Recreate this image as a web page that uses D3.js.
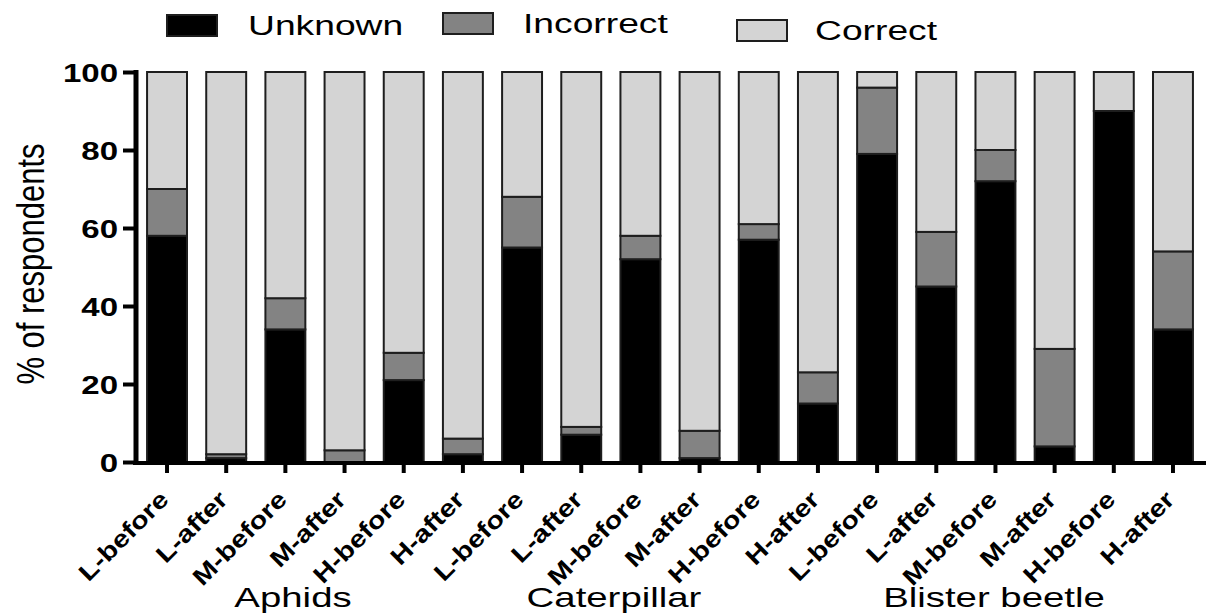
<!DOCTYPE html>
<html><head><meta charset="utf-8">
<script src="https://cdn.jsdelivr.net/npm/d3@7"></script>
<style>
html,body{margin:0;padding:0;background:#fff;}
text{font-family:"Liberation Sans",Arial,sans-serif;fill:#000;}
</style></head>
<body>
<svg id="chart" width="1208" height="614"></svg>
<script>
// ---- data ----
const categories = ["L-before","L-after","M-before","M-after","H-before","H-after",
                    "L-before","L-after","M-before","M-after","H-before","H-after",
                    "L-before","L-after","M-before","M-after","H-before","H-after"];
const groups = ["Aphids","Caterpillar","Blister beetle"];
const unknown   = [58, 1, 34, 0, 21, 2,  55, 7, 52, 1, 57, 15,  79, 45, 72, 4, 90, 34];
const incorrect = [12, 1,  8, 3,  7, 4,  13, 2,  6, 7,  4,  8,  17, 14,  8, 25, 0, 20];
const correct   = [30, 98, 58, 97, 72, 94, 32, 91, 42, 92, 39, 77,  4, 41, 20, 71, 10, 46];
const seriesNames = ["Unknown","Incorrect","Correct"];
const yTicks = [0, 20, 40, 60, 80, 100];

const colors = {Unknown:"#000000", Incorrect:"#838383", Correct:"#d4d4d4"};

const svg = d3.select("#chart");
svg.append("rect").attr("width",1208).attr("height",614).attr("fill","#fff");

const rows = categories.map((c,i)=>({id:i, cat:c, Unknown:unknown[i], Incorrect:incorrect[i], Correct:correct[i]}));
const stack = d3.stack().keys(seriesNames)(rows);

const x = d3.scaleBand().domain(rows.map(r=>r.id)).range([137,1203]).paddingInner(0.325).paddingOuter(0.17);
const y = d3.scaleLinear().domain([0,100]).range([462,72]);

// bars
svg.append("g").selectAll("g").data(stack).join("g")
  .attr("fill", d=>colors[d.key])
  .selectAll("rect").data(d=>d).join("rect")
  .attr("x", d=>x(d.data.id))
  .attr("width", x.bandwidth())
  .attr("y", d=>y(d[1]))
  .attr("height", d=>Math.max(0, y(d[0])-y(d[1])))
  .attr("stroke","#1e1e1e").attr("stroke-width",2);

// y axis
const yAxis = svg.append("g").attr("transform","translate(136,0)")
  .call(d3.axisLeft(y).tickValues(yTicks).tickSize(13).tickSizeOuter(0).tickPadding(0));
yAxis.select(".domain").attr("stroke","#000").attr("stroke-width",5).attr("d","M0,70V465");
yAxis.selectAll(".tick line").attr("stroke","#000").attr("stroke-width",4);
yAxis.selectAll(".tick text").remove();
yAxis.selectAll(".tick").append("text")
  .attr("transform","translate(-18,9) scale(1.27,1)")
  .attr("text-anchor","end")
  .style("font-size","26px").style("font-weight","bold")
  .text(d=>d);

// x axis
const xAxis = svg.append("g").attr("transform","translate(0,463)")
  .call(d3.axisBottom(x).tickSize(10).tickSizeOuter(0).tickFormat(""));
xAxis.select(".domain").attr("stroke","#000").attr("stroke-width",4).attr("d","M133,0H1206");
xAxis.selectAll(".tick line").attr("stroke","#000").attr("stroke-width",4);
xAxis.selectAll(".tick text").remove();
xAxis.selectAll(".tick").append("text")
  .attr("transform","translate(3,38) rotate(-45) scale(1.2,1)")
  .attr("text-anchor","end")
  .style("font-size","24px").style("font-weight","bold")
  .text(d=>categories[d]);

// group labels
const groupCenters = [293, 614, 994];
svg.append("g").selectAll("text").data(groups).join("text")
  .attr("transform",(d,i)=>`translate(${groupCenters[i]},607) scale(1.37,1)`)
  .attr("text-anchor","middle")
  .style("font-size","28px")
  .text(d=>d);

// y title
svg.append("text")
  .attr("transform","translate(44,264) rotate(-90) scale(1,1.25)")
  .attr("text-anchor","middle")
  .style("font-size","31px")
  .text("% of respondents");

// legend
const legendItems = [
  {name:"Unknown", rx:167, ry:15, tx:248, ty:35},
  {name:"Incorrect", rx:443, ry:13, tx:523, ty:33},
  {name:"Correct", rx:737, ry:20, tx:815, ty:40}
];
const lg = svg.append("g");
lg.selectAll("rect").data(legendItems).join("rect")
  .attr("x",d=>d.rx).attr("y",d=>d.ry).attr("width",50).attr("height",21)
  .attr("fill",d=>colors[d.name]).attr("stroke","#1e1e1e").attr("stroke-width",2);
lg.selectAll("text").data(legendItems).join("text")
  .attr("transform",d=>`translate(${d.tx},${d.ty}) scale(1.33,1)`)
  .style("font-size","28px")
  .text(d=>d.name);
</script>
</body></html>
